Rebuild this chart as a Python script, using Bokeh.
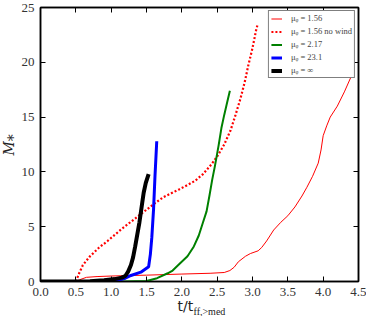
from bokeh.plotting import figure
from bokeh.models import (Range1d, LinearAxis, SingleIntervalTicker, NumeralTickFormatter,
                          Legend, LegendItem, Title)
from bokeh.embed import file_html
from bokeh.resources import INLINE

# ---- data ----
red_x = [0.5, 0.55, 0.65, 0.8, 1.0, 1.5, 2.0, 2.4, 2.6, 2.68, 2.74, 2.8, 2.9, 2.97, 3.08, 3.13,
         3.2, 3.3, 3.4, 3.5, 3.6, 3.7, 3.77, 3.85, 3.93, 3.97, 4.0, 4.05, 4.1, 4.2, 4.3, 4.41]
red_y = [0.0, 0.15, 0.38, 0.45, 0.5, 0.58, 0.68, 0.75, 0.82, 1.0, 1.3, 1.8, 2.3, 2.55, 2.8, 3.1,
         3.7, 4.7, 5.4, 6.0, 6.8, 7.8, 8.6, 9.6, 10.8, 12.0, 13.3, 14.2, 15.0, 16.0, 17.3, 18.9]

nowind_x = [0.5, 0.55, 0.6, 0.7, 0.83, 0.95, 1.05, 1.15, 1.28, 1.4, 1.51, 1.62, 1.74, 1.85, 1.96,
            2.08, 2.19, 2.3, 2.42, 2.51, 2.6, 2.69, 2.76, 2.83, 2.89, 2.94, 3.0, 3.05, 3.07]
nowind_y = [0.0, 0.8, 1.5, 2.3, 3.1, 3.7, 4.25, 4.8, 5.45, 6.05, 6.6, 7.15, 7.7, 8.05, 8.4,
            8.8, 9.2, 9.8, 10.7, 11.5, 12.5, 13.8, 15.2, 16.7, 18.2, 19.7, 21.3, 22.9, 23.4]

green_x = [0.0, 1.2, 1.5, 1.65, 1.8, 1.87, 1.95, 2.08, 2.17, 2.24, 2.3, 2.35, 2.39, 2.43, 2.47,
           2.52, 2.56, 2.6, 2.64, 2.68]
green_y = [0.0, 0.0, 0.05, 0.3, 0.75, 1.0, 1.5, 2.3, 3.2, 4.2, 5.4, 6.4, 7.8, 9.3, 10.6,
           12.4, 14.0, 15.2, 16.3, 17.4]

blue_x = [0.0, 0.9, 1.1, 1.2, 1.28, 1.42, 1.53, 1.555, 1.575, 1.6, 1.62, 1.645]
blue_y = [0.0, 0.02, 0.12, 0.3, 0.55, 0.85, 1.35, 2.5, 4.0, 6.6, 9.6, 12.8]

black_x = [0.0, 0.7, 0.9, 1.05, 1.15, 1.2, 1.24, 1.28, 1.31, 1.34, 1.37, 1.4, 1.42, 1.44, 1.46,
           1.49, 1.53]
black_y = [0.0, 0.02, 0.12, 0.22, 0.35, 0.5, 0.9, 1.5, 2.2, 3.2, 4.3, 5.4, 6.3, 7.2, 8.1,
           9.0, 9.8]

legend_labels = ["μᵩ = 1.56", "μᵩ = 1.56 no wind", "μᵩ = 2.17", "μᵩ = 23.1", "μᵩ = ∞"]

x_range = (0, 4.5)
y_range = (0, 25)

# ---- figure ----
p = figure(width=366, height=316, output_backend="svg", toolbar_location=None,
           x_range=Range1d(*x_range), y_range=Range1d(*y_range),
           min_border_left=36, min_border_right=8, min_border_top=7, min_border_bottom=35,
           x_axis_location=None, y_axis_location=None)
p.grid.visible = False
p.outline_line_color = "black"
p.outline_line_width = 1.5
p.background_fill_color = "white"
p.border_fill_color = "white"

def make_axis(interval, labels=True, fmt=None):
    ax = LinearAxis(ticker=SingleIntervalTicker(interval=interval))
    ax.major_tick_in = 5
    ax.major_tick_out = 0
    ax.minor_tick_line_color = None
    ax.major_tick_line_color = "black"
    ax.axis_line_color = "black"
    ax.axis_line_width = 1.5
    if labels:
        ax.major_label_text_font = "Liberation Serif"
        ax.major_label_text_font_size = "13px"
        ax.major_label_text_color = "#333333"
        ax.major_label_standoff = 2
        if fmt:
            ax.formatter = NumeralTickFormatter(format=fmt)
    else:
        ax.major_label_text_font_size = "0px"
        ax.major_label_standoff = 0
        ax.major_label_text_alpha = 0
    return ax

xb = make_axis(0.5, True, "0.0")
yl = make_axis(5, True)
yl.major_label_standoff = 2
xt = make_axis(0.5, False)
yr = make_axis(5, False)
p.add_layout(xb, "below")
p.add_layout(yl, "left")
p.add_layout(xt, "above")
p.add_layout(yr, "right")

r1 = p.line(red_x, red_y, line_color="#ff0000", line_width=1)
r2 = p.line(nowind_x, nowind_y, line_color="#ff0000", line_width=2.2, line_dash="2 2")
r3 = p.line(green_x, green_y, line_color="#008000", line_width=2)
r4 = p.line(blue_x, blue_y, line_color="#0000ff", line_width=3)
r5 = p.line(black_x, black_y, line_color="black", line_width=4)

legend = Legend(items=[LegendItem(label=l, renderers=[r]) for l, r in
                       zip(legend_labels, [r1, r2, r3, r4, r5])],
                location="top_right")
legend.margin = 3
legend.padding = 2
legend.spacing = 3
legend.glyph_width = 11
legend.glyph_height = 9
legend.label_height = 9
legend.label_width = 10
legend.label_standoff = 9
legend.label_text_font = "Liberation Serif"
legend.label_text_font_size = "8.5px"
legend.label_text_baseline = "middle"
legend.border_line_color = "black"
legend.border_line_width = 1
legend.background_fill_alpha = 1
p.add_layout(legend, "center")

# axis titles (Titles in side panels, so they are not clipped to the frame)
p.add_layout(Title(text="t/t", text_font="DejaVu Sans", text_font_size="14px",
                   text_font_style="normal", text_color="#222222",
                   align="left", offset=137, vertical_align="bottom", standoff=-6), "below")
p.add_layout(Title(text="ff,>med", text_font="Liberation Serif", text_font_size="10px",
                   text_font_style="normal", text_color="#222222",
                   align="left", offset=153, vertical_align="top", standoff=-10), "below")
p.add_layout(Title(text="M⁎", text_font="DejaVu Serif", text_font_size="14px",
                   text_font_style="italic", text_color="#222222",
                   align="left", offset=126, vertical_align="top", standoff=0), "left")

open("out.html", "w").write(file_html(p, INLINE))
